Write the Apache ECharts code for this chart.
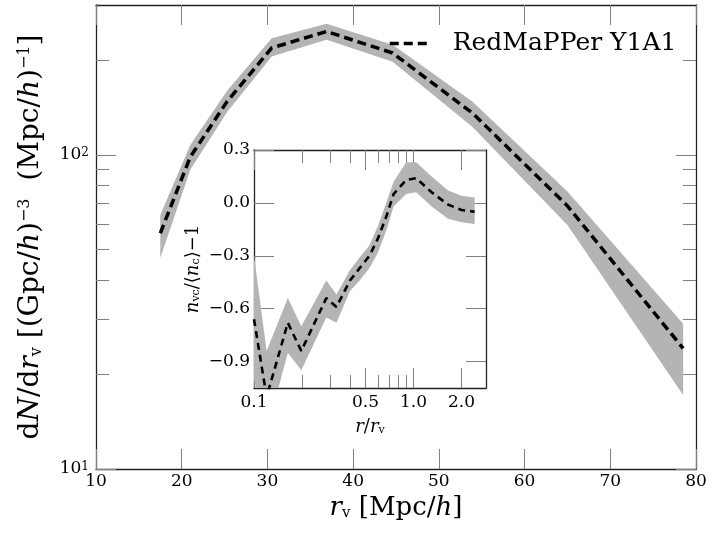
<!DOCTYPE html>
<html><head><meta charset="utf-8">
<script src="https://cdn.jsdelivr.net/npm/echarts@6/dist/echarts.min.js"></script>
<style>html,body{margin:0;padding:0;background:#fff}#c{width:709px;height:536px}</style>
</head><body><div id="c"></div>
<script>
// Main panel: void abundance vs radius
const rv = [17.5, 21.0, 25.3, 30.5, 36.9, 44.6, 53.9, 65.0, 78.5];
const dndr = [56.3, 98.5, 148, 219, 247, 211, 136, 68.8, 24.2];
const dndrLow = [47.0, 89.6, 137, 205.6, 232.5, 198, 123, 59.8, 17.2];
const dndrHigh = [64.4, 107.6, 160, 235.3, 261.4, 224, 148, 76.4, 29.0];

// Inset: density profile
const rr = [0.100, 0.120, 0.163, 0.198, 0.284, 0.329, 0.400, 0.460, 0.530, 0.600, 0.680, 0.750, 0.900, 1.040, 1.300, 1.650, 2.000, 2.420];
const prof = [-0.66, -1.10, -0.68, -0.84, -0.54, -0.59, -0.44, -0.37, -0.30, -0.20, -0.07, 0.05, 0.13, 0.14, 0.06, -0.01, -0.04, -0.05];
const profHigh = [-0.30, -0.84, -0.54, -0.70, -0.44, -0.52, -0.38, -0.31, -0.24, -0.13, 0.01, 0.12, 0.23, 0.23, 0.15, 0.07, 0.04, 0.03];
const profLow = [-1.00, -1.30, -0.85, -0.95, -0.65, -0.68, -0.50, -0.44, -0.37, -0.28, -0.15, -0.02, 0.05, 0.06, -0.02, -0.09, -0.11, -0.12];

// Tick values
const mainXTicks = [10, 20, 30, 40, 50, 60, 70, 80];
const mainYMajor = [10, 100];
const mainYMinor = [20, 30, 40, 50, 60, 70, 80, 90, 200];
const insetXMajor = [0.1, 0.5, 1, 2];
const insetXMinor = [0.2, 0.3, 0.4, 0.6, 0.7, 0.8, 0.9];
const insetYTicks = [-0.9, -0.6, -0.3, 0, 0.3];

const legendName = 'RedMaPPer Y1A1';
const F = 'DejaVu Serif';
const FRAME = '#222';
const TICK = '#808080';
const BAND = '#b4b4b4';
const MAIN_H = 464, INSET_H = 238;

const chart = echarts.init(document.getElementById('c'));

function richBig(fs, sub, sup) {
  return {
    t: {fontFamily: F, fontSize: fs, color: '#000'},
    i: {fontFamily: F, fontSize: fs, fontStyle: 'italic', color: '#000'},
    sub: {fontFamily: F, fontSize: sub, color: '#000', verticalAlign: 'bottom'},
    sup: {fontFamily: F, fontSize: sup, color: '#000', verticalAlign: 'top'}
  };
}
function frameLine() { return {show: true, onZero: false, lineStyle: {color: FRAME, width: 1.3}}; }
function hiddenLine() { return {show: false, onZero: false}; }
function ticks(len, vals, inside) {
  const t = {show: true, inside: inside !== false, length: len, lineStyle: {color: TICK, width: 1}};
  if (vals) t.customValues = vals;
  return t;
}
const noTick = {show: false};
const noLabel = {show: false};
const noSplit = {show: false};

// tick-only helper axis (no line, no labels)
function tickAxis(type, grid, min, max, pos, len, vals, offset, inside) {
  const a = {type: type, gridIndex: grid, min: min, max: max, position: pos, offset: offset || 0,
    axisLine: hiddenLine(), splitLine: noSplit, axisTick: ticks(len, vals, inside), axisLabel: noLabel};
  if (type === 'log') a.logBase = 10;
  return a;
}

const xAxes = [
  // 0: main bottom frame + labels + title
  {type: 'value', gridIndex: 0, min: 10, max: 80, interval: 10, position: 'bottom',
   axisLine: frameLine(), splitLine: noSplit, axisTick: noTick,
   axisLabel: {fontFamily: F, fontSize: 17, color: '#000', margin: 4},
   name: '{i|r}{sub|v}{t| [Mpc/}{i|h}{t|]}', nameLocation: 'middle', nameGap: 24,
   nameTextStyle: {rich: richBig(26, 15, 15)}},
  // 1: main top frame
  {type: 'value', gridIndex: 0, min: 10, max: 80, interval: 10, position: 'top',
   axisLine: frameLine(), splitLine: noSplit, axisTick: noTick, axisLabel: noLabel},
  // 2: inset bottom frame + labels + title
  {type: 'log', logBase: 10, gridIndex: 1, min: 0.1, max: 2.85, position: 'bottom',
   axisLine: frameLine(), splitLine: noSplit, axisTick: noTick,
   axisLabel: {customValues: insetXMajor, fontFamily: F, fontSize: 17, color: '#000', margin: 6,
     formatter: v => v.toFixed(1)},
   name: '{i|r}{t|/}{i|r}{sub|v}', nameLocation: 'middle', nameGap: 30,
   nameTextStyle: {rich: richBig(18, 11, 11)}},
  // 3: inset top frame
  {type: 'log', logBase: 10, gridIndex: 1, min: 0.1, max: 2.85, position: 'top',
   axisLine: frameLine(), splitLine: noSplit, axisTick: noTick, axisLabel: noLabel},
  // tick-only axes: top edges (ticks point down)
  tickAxis('value', 0, 10, 80, 'top', 20, mainXTicks),
  tickAxis('log', 1, 0.1, 2.85, 'top', 20, insetXMajor),
  tickAxis('log', 1, 0.1, 2.85, 'top', 13, insetXMinor),
  // tick-only axes moved onto the bottom edges (ticks point up into the plot)
  tickAxis('value', 0, 10, 80, 'top', 20, mainXTicks, -MAIN_H, false),
  tickAxis('log', 1, 0.1, 2.85, 'top', 20, insetXMajor, -INSET_H, false),
  tickAxis('log', 1, 0.1, 2.85, 'top', 13, insetXMinor, -INSET_H, false)
];

const yAxes = [
  // 0: main left frame + labels + title
  {type: 'log', logBase: 10, gridIndex: 0, min: 10, max: 300, position: 'left',
   axisLine: frameLine(), splitLine: noSplit, axisTick: noTick,
   axisLabel: {customValues: mainYMajor, margin: 7,
     formatter: v => '{b|10}{s|' + Math.round(Math.log10(v)) + '}',
     rich: {b: {fontFamily: F, fontSize: 17, color: '#000'},
            s: {fontFamily: F, fontSize: 12, color: '#000', verticalAlign: 'top'}}},
   name: '{t|d}{i|N}{t|/d}{i|r}{sub|v}{t| [(Gpc/}{i|h}{t|)}{sup|−3}{t|  (Mpc/}{i|h}{t|)}{sup|−1}{t|]}',
   nameLocation: 'middle', nameRotate: 90, nameGap: 51,
   nameTextStyle: {rich: richBig(28, 16, 16)}},
  // 1: main right frame
  {type: 'log', logBase: 10, gridIndex: 0, min: 10, max: 300, position: 'right',
   axisLine: frameLine(), splitLine: noSplit, axisTick: noTick, axisLabel: noLabel},
  // 2: inset left frame + labels + title
  {type: 'value', gridIndex: 1, min: -1.05, max: 0.3, position: 'left',
   axisLine: frameLine(), splitLine: noSplit, axisTick: noTick,
   axisLabel: {customValues: insetYTicks, fontFamily: F, fontSize: 17, color: '#000', margin: 4,
     formatter: v => (Math.abs(v) < 1e-9 ? '0.0' : (v < 0 ? '\u2212' + (-v).toFixed(1) : v.toFixed(1)))},
   name: '{i|n}{sub|vc}{t|/⟨}{i|n}{sub|c}{t|⟩−1}',
   nameLocation: 'middle', nameRotate: 90, nameGap: 52,
   nameTextStyle: {rich: richBig(18, 11, 11)}},
  // 3: inset right frame
  {type: 'value', gridIndex: 1, min: -1.05, max: 0.3, position: 'right',
   axisLine: frameLine(), splitLine: noSplit, axisTick: noTick, axisLabel: noLabel},
  // tick-only axes
  tickAxis('log', 0, 10, 300, 'left', 20, mainYMajor),
  tickAxis('log', 0, 10, 300, 'right', 20, mainYMajor),
  tickAxis('log', 0, 10, 300, 'left', 13, mainYMinor),
  tickAxis('log', 0, 10, 300, 'right', 13, mainYMinor),
  tickAxis('value', 1, -1.05, 0.3, 'left', 20, insetYTicks),
  tickAxis('value', 1, -1.05, 0.3, 'right', 20, insetYTicks)
];

const pairs = (xs, ys) => xs.map((x, i) => [x, ys[i]]);

// Band drawn as one polygon through the axis scales (api.coord)
function bandSeries(xs, lo, hi, xi, yi) {
  return {
    type: 'custom', xAxisIndex: xi, yAxisIndex: yi, clip: true, silent: true, z: 1,
    data: xs.map((x, i) => [x, lo[i], hi[i]]),
    encode: {x: 0, y: [1, 2]},
    renderItem: function (params, api) {
      if (params.dataIndex !== 0) return null;
      const pts = [];
      for (let i = 0; i < xs.length; i++) pts.push(api.coord([xs[i], hi[i]]));
      for (let i = xs.length - 1; i >= 0; i--) pts.push(api.coord([xs[i], lo[i]]));
      const cs = params.coordSys;
      return {
        type: 'polygon', shape: {points: pts}, style: {fill: BAND, stroke: null},
        clipPath: {type: 'rect', shape: {x: cs.x, y: cs.y, width: cs.width, height: cs.height}}
      };
    }
  };
}

const series = [
  bandSeries(rv, dndrLow, dndrHigh, 0, 0),
  {type: 'line', name: legendName, xAxisIndex: 0, yAxisIndex: 0, data: pairs(rv, dndr),
   symbol: 'none', showSymbol: false, itemStyle: {color: '#000'},
   lineStyle: {color: '#000', width: 3.5, type: [9, 5]}, z: 3},
  bandSeries(rr, profLow, profHigh, 2, 2),
  {type: 'line', name: 'inLine', xAxisIndex: 2, yAxisIndex: 2, data: pairs(rr, prof),
   symbol: 'none', itemStyle: {color: '#000'},
   lineStyle: {color: '#000', width: 2.6, type: [7, 5]}, z: 3}
];

chart.setOption({
  animation: false,
  backgroundColor: '#fff',
  grid: [
    {left: 96, top: 5, width: 600, height: MAIN_H, outerBoundsMode: 'none', containLabel: false},
    {left: 254, top: 150, width: 232, height: INSET_H, outerBoundsMode: 'none', containLabel: false}
  ],
  legend: {
    data: [legendName], left: 383, top: 26, itemWidth: 40, itemHeight: 14,
    itemStyle: {opacity: 0},
    lineStyle: {width: 3.5, type: [9, 5], color: '#000'},
    textStyle: {fontFamily: F, fontSize: 25, color: '#000', padding: [0, 0, 0, 18]},
    selectedMode: false
  },
  xAxis: xAxes,
  yAxis: yAxes,
  series: series
});
</script></body></html>
